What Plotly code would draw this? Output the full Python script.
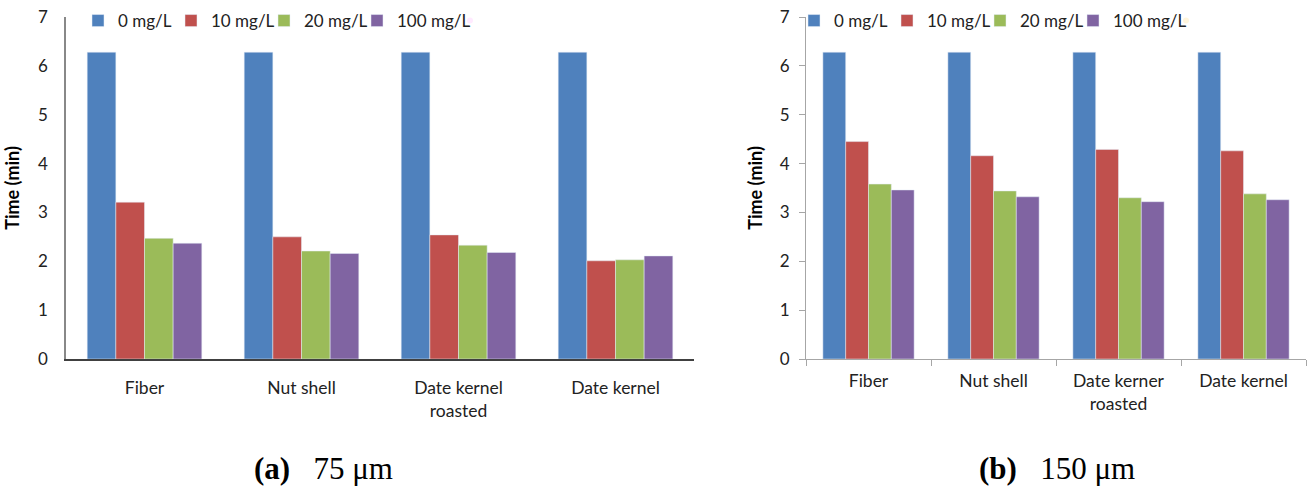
import plotly.graph_objects as go

categories_a = ["Fiber", "Nut shell", "Date kernel<br>roasted", "Date kernel"]
categories_b = ["Fiber", "Nut shell", "Date kerner<br>roasted", "Date kernel"]
series_names = ["0 mg/L", "10 mg/L", "20 mg/L", "100 mg/L"]
colors = ["#4F81BD", "#C0504D", "#9BBB59", "#8064A2"]

# (a) 75 um
a_0 = [6.28, 6.28, 6.28, 6.28]
a_10 = [3.21, 2.50, 2.54, 2.01]
a_20 = [2.47, 2.21, 2.33, 2.03]
a_100 = [2.37, 2.16, 2.18, 2.11]

# (b) 150 um
b_0 = [6.28, 6.28, 6.28, 6.28]
b_10 = [4.45, 4.16, 4.29, 4.26]
b_20 = [3.58, 3.44, 3.30, 3.38]
b_100 = [3.46, 3.32, 3.22, 3.26]

W, H = 1314, 492
FONT = "Lato, Roboto, sans-serif"

fig = go.Figure()
for name, vals, col in zip(series_names, [a_0, a_10, a_20, a_100], colors):
    fig.add_trace(go.Bar(x=categories_a, y=vals, name=name, marker_color=col,
                         xaxis="x", yaxis="y", legend="legend"))
for name, vals, col in zip(series_names, [b_0, b_10, b_20, b_100], colors):
    fig.add_trace(go.Bar(x=categories_b, y=vals, name=name, marker_color=col,
                         xaxis="x2", yaxis="y2", legend="legend2"))

# invisible legend spacers so the last legend label is not clipped
for xa, ya, lg in [("x", "y", "legend"), ("x2", "y2", "legend2")]:
    fig.add_trace(go.Scatter(x=[None], y=[None], name=" ", mode="markers",
                             marker=dict(opacity=0), xaxis=xa, yaxis=ya, legend=lg,
                             showlegend=True, hoverinfo="skip"))

ydom = [1 - 359 / H, 1 - 17 / H]
tickfont = dict(family=FONT, size=17, color="#222")
catfont = dict(family=FONT, size=17.5, color="#222")
titlefont = dict(family=FONT, size=18, color="#000", weight="bold")
legfont = dict(family=FONT, size=17, color="#222")

fig.update_layout(
    width=W, height=H,
    margin=dict(l=0, r=0, t=0, b=0),
    paper_bgcolor="white", plot_bgcolor="white",
    barmode="group", bargap=0.27, bargroupgap=0,
    xaxis=dict(domain=[66 / W, 694 / W], anchor="y", showline=True, linecolor="#404040",
               linewidth=1.5, ticks="", tickfont=catfont, ticklabelstandoff=12,
               showgrid=False, automargin=False),
    yaxis=dict(domain=ydom, anchor="x", range=[0, 7], dtick=1, showline=True,
               linecolor="#888", linewidth=1.5, ticks="", tickfont=tickfont,
               ticklabelstandoff=13, showgrid=False, zeroline=False, automargin=False,
               title=dict(text="Time (min)", font=titlefont, standoff=14)),
    xaxis2=dict(domain=[806 / W, 1306 / W], anchor="y2", showline=True, linecolor="#A6A6A6",
                linewidth=1, ticks="outside", tickson="boundaries", ticklen=6,
                tickcolor="#A6A6A6", tickfont=catfont, ticklabelstandoff=6,
                showgrid=False, automargin=False),
    yaxis2=dict(domain=ydom, anchor="x2", range=[0, 7], dtick=1, showline=True,
                linecolor="#A6A6A6", linewidth=1, ticks="outside", ticklen=6,
                tickcolor="#A6A6A6", tickfont=tickfont, ticklabelstandoff=6,
                showgrid=False, zeroline=False, automargin=False,
                title=dict(text="Time (min)", font=titlefont, standoff=12)),
    legend=dict(orientation="h", x=78 / W, xanchor="left", y=1 - 3 / H, yanchor="top",
                font=legfont, bgcolor="rgba(0,0,0,0)", entrywidth=48, entrywidthmode="pixels",
                itemclick=False),
    legend2=dict(orientation="h", x=794 / W, xanchor="left", y=1 - 3 / H, yanchor="top",
                 font=legfont, bgcolor="rgba(0,0,0,0)", entrywidth=48, entrywidthmode="pixels",
                 itemclick=False),
)

SP = "\u00a0\u00a0\u00a0"
fig.add_annotation(x=323 / W, y=1 - 468 / H, xref="paper", yref="paper", showarrow=False,
                   xanchor="center", yanchor="middle",
                   text="<b>(a)</b>" + SP + "75 μm",
                   font=dict(family="Liberation Serif, serif", size=31, color="#000"))
fig.add_annotation(x=1057 / W, y=1 - 468 / H, xref="paper", yref="paper", showarrow=False,
                   xanchor="center", yanchor="middle",
                   text="<b>(b)</b>" + SP + "150 μm",
                   font=dict(family="Liberation Serif, serif", size=31, color="#000"))

fig.write_html("out.html")
